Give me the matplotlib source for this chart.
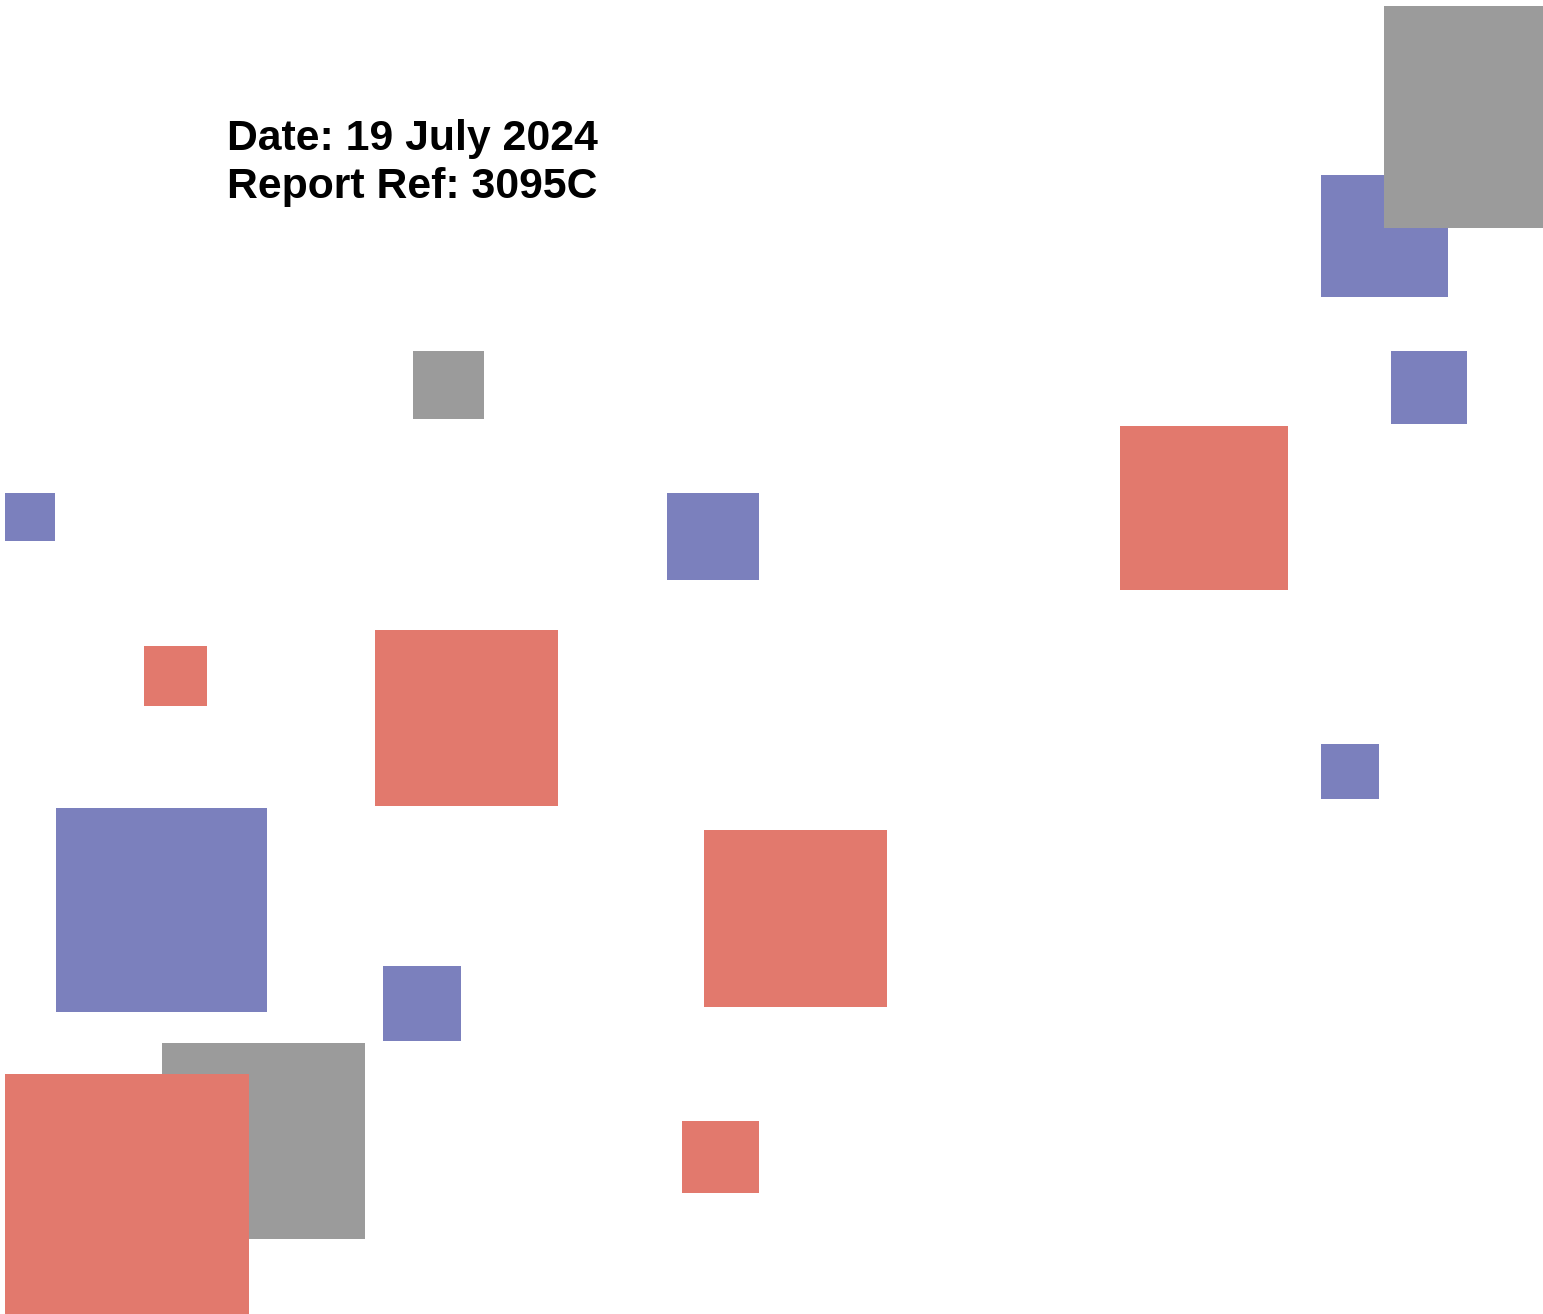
import matplotlib
matplotlib.use("Agg")
import matplotlib.pyplot as plt
from matplotlib.patches import Rectangle

# squares: left, top (pixel-like units), width, height, colour group
lefts = [1321, 1384, 413, 1391, 1120, 5, 667, 144, 375, 1321, 56, 704, 383, 162, 5, 682]
tops = [175, 6, 351, 351, 426, 493, 493, 646, 630, 744, 808, 830, 966, 1043, 1074, 1121]
widths = [127, 222, 71, 76, 168, 50, 92, 63, 183, 58, 211, 183, 78, 203, 244, 77]
heights = [122, 222, 68, 73, 164, 48, 87, 60, 176, 55, 204, 177, 75, 196, 244, 72]
groups = ["blue", "gray", "gray", "blue", "red", "blue", "blue", "red", "red",
          "blue", "blue", "red", "blue", "gray", "red", "red"]

palette = {"blue": "#7b80bd", "red": "#e2796d", "gray": "#9b9b9b"}

lines = ["Date: 19 July 2024", "Report Ref: 3095C"]

fig = plt.figure(figsize=(15.43, 13.14), dpi=100)
ax = fig.add_axes([0, 0, 1, 1])
ax.set_xlim(0, 1543)
ax.set_ylim(1314, 0)
ax.axis("off")

for x, y, w, h, g in zip(lefts, tops, widths, heights, groups):
    ax.add_patch(Rectangle((x, y), w, h, facecolor=palette[g], edgecolor="none"))

for i, t in enumerate(lines):
    ax.text(227, 150 + i * 48, t, fontsize=30.8, fontweight="bold",
            family=["Liberation Sans", "DejaVu Sans"], color="black",
            ha="left", va="baseline")

fig.savefig("out.png", dpi=100, facecolor="white")
